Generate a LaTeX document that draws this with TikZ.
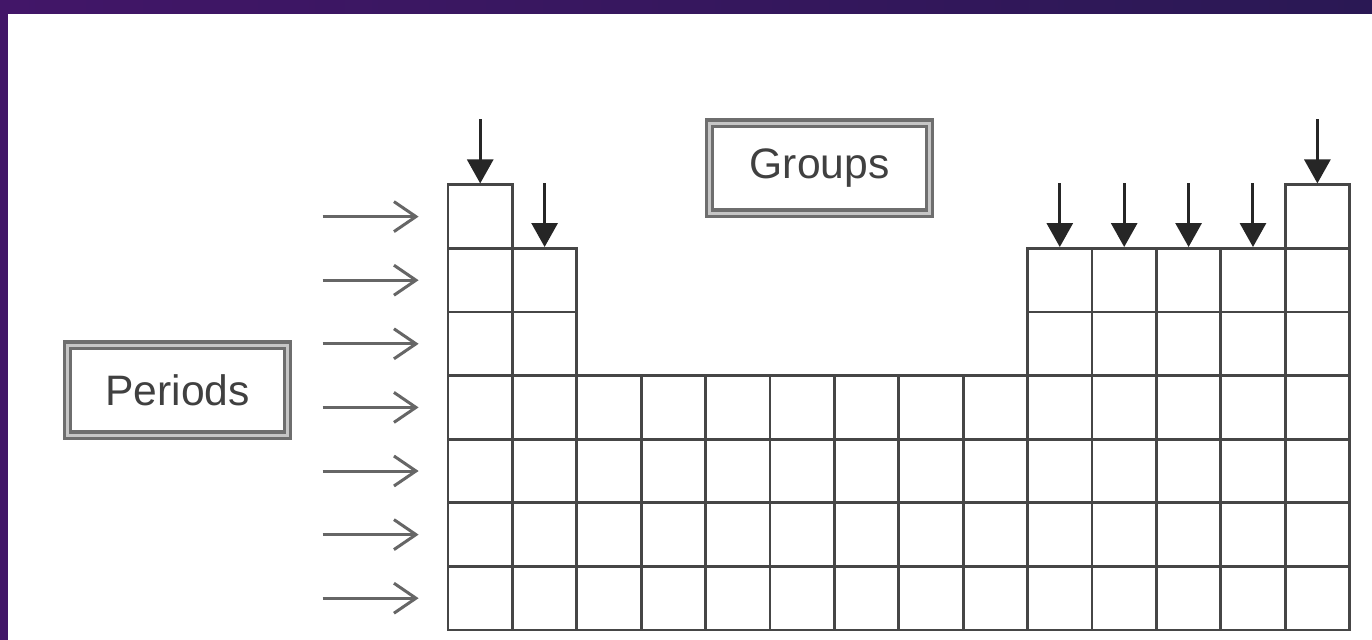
\documentclass[tikz,border=0pt]{standalone}
\usepackage{fontspec}
\setsansfont{Liberation Sans}
\usepackage{tikz}
\usetikzlibrary{arrows.meta, positioning, calc}

\definecolor{framepurpleA}{RGB}{66,22,104}
\definecolor{framepurpleB}{RGB}{42,24,84}
\definecolor{gridgray}{RGB}{70,70,70}
\definecolor{boxgray}{RGB}{110,110,110}

\begin{document}
\begin{tikzpicture}[
	x=32.2pt, y=31.8pt,
	font=\sffamily\fontsize{21.3}{25}\selectfont,
	>=Stealth,
	% Style for one cell of the table
	cell/.style={rectangle, draw=gridgray, line width=1.4pt, inner sep=0pt,
		minimum width=32.2pt, minimum height=31.8pt},
	% Style for the framed labels
	labelbox/.style={rectangle, draw=boxgray, line width=1.6pt, double=gray!45,
		double distance=1.6pt, text=black!75, inner sep=0pt,
		minimum width=110pt, minimum height=45pt},
	% Style for the arrows on the groups
	garrow/.style={draw=black!85, line width=1.5pt, -{Triangle[width=13pt, length=12pt]}},
	% Style for the arrows on the periods
	parrow/.style={draw=black!60, line width=1.5pt, -{Straight Barb[length=11pt, width=15pt]}}
	]
	
	% 0. Page and frame
	\useasboundingbox (-6.957,-0.157) rectangle (14.348,9.906);
	\fill[white] (-6.957,-0.157) rectangle (14.348,9.906);
	\shade[left color=framepurpleA, right color=framepurpleB] (-6.957,9.686) rectangle (14.348,9.906);
	\fill[framepurpleA] (-6.957,-0.157) rectangle (-6.833,9.906);
	
	% 1. Table cells (column / first row)
	\foreach \c/\top in {0/1, 1/2, 2/4, 3/4, 4/4, 5/4, 6/4, 7/4, 8/4, 9/2, 10/2, 11/2, 12/2, 13/1}{
		\foreach \r in {\top,...,7}{
			\node[cell] (cell-\r-\c) at ({\c+0.5},{7.5-\r}) {};
		}
	}
	
	% 2. Labels
	\node[labelbox] (groups) at (5.77,7.26) {Groups};
	\node[labelbox] (periods) at (-4.2,3.77) {Periods};
	
	% 3. Group arrows (down into the top cells)
	\foreach \c/\r in {0/1, 1/2, 9/2, 10/2, 11/2, 12/2, 13/1}{
		\draw[garrow] ([yshift=32pt]cell-\r-\c.north) -- (cell-\r-\c.north);
	}
	
	% 4. Period arrows (pointing at each row)
	\foreach \r in {1,...,7}{
		\draw[parrow] ([xshift=-62pt]cell-\r-0.west) -- ([xshift=-14pt]cell-\r-0.west);
	}
	
\end{tikzpicture}
\end{document}
